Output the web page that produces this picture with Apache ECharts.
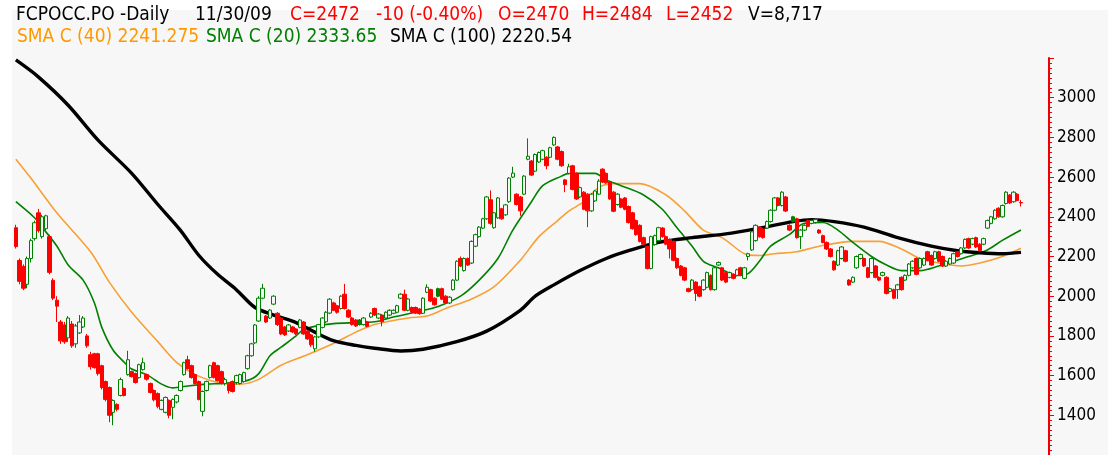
<!DOCTYPE html>
<html><head><meta charset="utf-8">
<script src="https://cdn.jsdelivr.net/npm/echarts@6/dist/echarts.min.js"></script>
<style>
html,body{margin:0;padding:0;background:#ffffff;overflow:hidden;}
#panel{position:absolute;left:12px;top:10px;width:1096px;height:445px;background:#f7f7f7;}
#chart{position:absolute;left:0;top:0;width:1108px;height:455px;}
</style></head><body>
<div id="panel"></div><div id="chart"></div>
<script>
// ---- data ----
const symbol = 'FCPOCC.PO -Daily';
const lastDate = '11/30/09';
const volume = '8,717';
const open = [
2345,2180,2150,2060,2190,2290,2420,2300,2340,2300,
2080,1980,1870,1855,1790,1860,1760,1815,1845,1800,
1705,1710,1710,1650,1570,1540,1415,1455,1500,1535,
1605,1620,1610,1590,1630,1605,1560,1525,1510,1430,
1415,1475,1440,1467,1525,1605,1680,1650,1605,1570,
1420,1525,1590,1665,1650,1620,1560,1557,1570,1565,
1560,1570,1635,1700,1765,1875,1990,1900,1890,1960,
1914,1890,1845,1825,1845,1835,1843,1870,1825,1805,
1735,1795,1843,1871,1915,1966,1952,1938,2010,1929,
1890,1880,1880,1857,1871,1895,1938,1890,1905,1890,
1905,1914,1919,1990,2010,1929,1943,1943,1935,1914,
2020,2033,1990,2038,2038,2000,1966,2033,2081,2190,
2129,2190,2167,2252,2300,2343,2390,2486,2345,2395,
2440,2410,2476,2600,2514,2500,2514,2690,2681,2630,
2676,2690,2700,2700,2762,2752,2729,2586,2619,2657,
2619,2500,2524,2514,2430,2480,2514,2640,2619,2576,
2524,2462,2490,2495,2452,2420,2381,2357,2295,2250,
2140,2260,2280,2343,2300,2286,2276,2190,2152,2143,
2038,2033,2071,2048,2033,2045,2105,2033,2157,2143,
2119,2095,2110,2105,2143,2090,2200,2233,2280,2348,
2338,2343,2376,2433,2495,2457,2500,2357,2400,2390,
2300,2333,2381,2367,2371,2333,2305,2271,2238,2176,
2157,2190,2229,2081,2071,2143,2190,2190,2143,2119,
2152,2095,2105,2095,2024,2033,2033,2095,2081,2105,
2143,2190,2143,2157,2224,2205,2190,2224,2200,2152,
2162,2167,2224,2214,2243,2290,2262,2295,2262,2262,
2343,2367,2390,2443,2400,2467,2510,2476,2514,2470];
const close = [
2250,2075,2040,2190,2280,2370,2330,2400,2405,2120,
1990,1950,1775,1770,1890,1750,1850,1870,1890,1750,
1645,1640,1610,1540,1480,1400,1475,1430,1580,1500,
1680,1595,1565,1655,1665,1582,1515,1478,1445,1475,
1490,1400,1480,1500,1570,1665,1635,1590,1560,1480,
1520,1570,1650,1590,1575,1560,1580,1525,1520,1600,
1605,1615,1700,1760,1855,1990,2040,1870,1930,2000,
1857,1810,1805,1855,1820,1810,1880,1810,1785,1755,
1795,1857,1890,1919,1985,1929,1919,2000,1938,1895,
1857,1850,1857,1890,1848,1914,1905,1910,1871,1919,
1929,1929,1952,2010,1929,1986,1919,1915,1912,1990,
2045,1976,1957,2000,1985,1966,1995,2081,2176,2152,
2190,2157,2276,2310,2348,2390,2500,2367,2420,2495,
2390,2460,2595,2620,2462,2430,2605,2705,2610,2714,
2724,2733,2657,2748,2800,2690,2657,2562,2652,2538,
2490,2547,2438,2430,2514,2530,2580,2575,2571,2490,
2428,2514,2448,2438,2371,2340,2310,2276,2262,2140,
2300,2305,2345,2300,2262,2238,2181,2143,2105,2081,
2024,2081,2014,2000,2081,2119,2033,2143,2170,2081,
2071,2119,2090,2133,2105,2143,2214,2324,2357,2300,
2295,2376,2433,2495,2457,2524,2429,2333,2376,2295,
2333,2357,2352,2381,2386,2319,2271,2238,2200,2133,
2229,2248,2176,2057,2095,2200,2210,2152,2095,2190,
2095,2081,2119,2014,2038,1990,2057,2033,2105,2162,
2176,2110,2190,2190,2181,2157,2224,2176,2152,2176,
2190,2214,2200,2243,2286,2243,2290,2248,2229,2290,
2381,2400,2433,2400,2457,2524,2470,2524,2482,2472];
const low = [
2240,2060,2030,2040,2170,2280,2320,2290,2330,2110,
1980,1870,1760,1760,1770,1740,1740,1810,1840,1740,
1630,1635,1600,1530,1470,1365,1350,1420,1495,1495,
1600,1590,1560,1585,1625,1575,1510,1470,1435,1425,
1410,1385,1380,1460,1520,1600,1630,1585,1555,1475,
1395,1520,1585,1585,1570,1555,1550,1510,1515,1555,
1555,1565,1630,1695,1760,1870,1985,1865,1885,1955,
1850,1805,1800,1820,1815,1805,1838,1805,1780,1745,
1720,1790,1838,1865,1910,1925,1912,1933,1933,1890,
1852,1845,1852,1852,1843,1890,1900,1885,1848,1885,
1900,1909,1914,1985,1925,1924,1914,1910,1907,1910,
2015,1970,1952,1995,1980,1960,1960,2028,2076,2147,
2124,2152,2162,2247,2295,2338,2385,2360,2340,2390,
2385,2405,2470,2595,2457,2405,2509,2685,2605,2625,
2671,2685,2640,2695,2757,2685,2652,2524,2614,2533,
2485,2495,2433,2348,2425,2475,2509,2570,2566,2485,
2423,2457,2443,2433,2366,2335,2305,2271,2257,2135,
2135,2255,2275,2295,2257,2190,2176,2138,2100,2076,
2019,2028,1976,1995,2028,2040,2028,2028,2152,2076,
2066,2090,2085,2100,2100,2085,2180,2228,2275,2295,
2290,2338,2371,2428,2452,2452,2424,2328,2371,2290,
2238,2328,2347,2362,2366,2314,2266,2233,2195,2128,
2152,2185,2171,2052,2066,2138,2185,2147,2090,2114,
2090,2076,2100,2009,2019,1985,1986,2028,2076,2100,
2138,2105,2138,2152,2176,2152,2185,2171,2147,2147,
2157,2162,2195,2209,2238,2238,2257,2243,2224,2257,
2338,2362,2385,2395,2395,2462,2465,2471,2478,2452];
const high = [
2360,2190,2160,2200,2290,2380,2440,2410,2410,2310,
2090,2000,1880,1870,1900,1875,1860,1905,1900,1810,
1720,1715,1715,1655,1575,1545,1480,1460,1590,1540,
1725,1625,1615,1660,1690,1610,1565,1530,1515,1480,
1495,1480,1485,1505,1575,1670,1700,1655,1610,1575,
1525,1575,1655,1670,1655,1625,1590,1565,1575,1605,
1610,1620,1705,1765,1860,2000,2062,1905,1935,2005,
1920,1895,1850,1860,1850,1840,1885,1875,1830,1810,
1800,1860,1895,1925,1990,1972,1957,2005,2062,1935,
1895,1885,1885,1895,1876,1920,1943,1915,1910,1924,
1934,1934,1957,2015,2033,1990,1948,1948,1940,1995,
2060,2038,1995,2043,2043,2005,2000,2086,2181,2200,
2195,2195,2281,2315,2353,2395,2505,2533,2425,2500,
2445,2465,2600,2652,2519,2505,2610,2795,2686,2719,
2729,2738,2705,2753,2805,2757,2734,2591,2667,2662,
2624,2552,2529,2519,2519,2535,2590,2645,2624,2581,
2529,2519,2495,2500,2457,2425,2386,2362,2300,2255,
2305,2310,2350,2348,2305,2291,2281,2195,2157,2148,
2043,2086,2076,2053,2086,2124,2110,2148,2175,2148,
2124,2124,2115,2138,2148,2148,2219,2329,2362,2353,
2343,2381,2438,2500,2500,2529,2505,2362,2405,2395,
2338,2362,2386,2386,2391,2338,2310,2276,2243,2181,
2234,2253,2234,2086,2100,2205,2215,2195,2148,2195,
2157,2100,2124,2100,2043,2038,2062,2100,2110,2167,
2181,2195,2195,2195,2229,2210,2229,2229,2205,2181,
2195,2219,2229,2248,2291,2295,2295,2300,2267,2295,
2386,2405,2438,2448,2462,2529,2515,2529,2520,2484];
// moving averages: [bar index, value]
const sma20 = [[0,2476],[5,2395],[7,2348],[11,2252],[14,2157],[18,2081],[21,1967],[23,1843],[26,1729],[29,1667],[31,1633],[35,1605],[39,1557],[42,1538],[46,1548],[51,1557],[56,1562],[62,1576],[65,1610],[68,1700],[71,1743],[75,1800],[77,1833],[80,1848],[85,1862],[91,1867],[96,1871],[101,1895],[108,1924],[113,1948],[119,2000],[124,2081],[129,2190],[133,2333],[138,2476],[141,2557],[146,2605],[148,2619],[155,2619],[158,2586],[162,2557],[168,2510],[173,2438],[177,2343],[181,2252],[184,2176],[188,2143],[193,2105],[196,2114],[199,2176],[202,2252],[207,2310],[211,2367],[216,2371],[220,2333],[224,2271],[229,2200],[233,2157],[237,2129],[242,2129],[247,2152],[251,2176],[255,2200],[260,2233],[264,2281],[269,2333.65]];
const sma40 = [[0,2690],[4,2595],[11,2419],[20,2224],[25,2071],[31,1919],[38,1771],[43,1667],[48,1605],[55,1562],[60,1557],[65,1581],[71,1652],[78,1705],[86,1771],[91,1819],[96,1857],[105,1890],[110,1900],[115,1938],[122,1986],[128,2048],[135,2181],[140,2300],[145,2381],[148,2429],[152,2476],[156,2548],[160,2567],[167,2567],[174,2510],[179,2429],[184,2333],[189,2295],[195,2214],[199,2205],[203,2214],[209,2224],[215,2252],[224,2276],[231,2276],[237,2238],[242,2190],[247,2167],[253,2152],[258,2167],[264,2200],[269,2241.275]];
const sma100 = [[0,3190],[6,3105],[14,2962],[22,2786],[31,2619],[38,2462],[44,2333],[49,2205],[54,2110],[59,2033],[64,1943],[69,1905],[75,1867],[80,1819],[85,1776],[91,1752],[96,1738],[103,1724],[109,1733],[118,1771],[126,1824],[135,1929],[139,2000],[144,2057],[151,2129],[158,2190],[164,2229],[172,2271],[181,2295],[190,2314],[199,2343],[208,2376],[213,2386],[219,2376],[227,2348],[236,2295],[245,2252],[252,2229],[258,2219],[264,2214],[269,2220.54]];
const emptySlots = 7;   // unused days right of the last bar
const yMin = 1200, yMax = 3200, yStep = 200;

// ---- derived ----
const n = close.length, last = n - 1;
const categories = close.map((_, i) => 'd' + i).concat(Array.from({length: emptySlots}, (_, i) => 'e' + i));
const UP = '#008000', DOWN = '#ff0000', HOLLOW = '#f7f7f7', ORANGE = '#f7a035', BLACK = '#000000';
const candles = open.map((o, i) => {
  const c = close[i];
  const prev = i > 0 ? close[i - 1] : o;
  const col = c >= prev ? UP : DOWN;
  const fill = c >= o ? HOLLOW : col;
  return {value: [o, c, low[i], high[i]], itemStyle: {color: fill, color0: fill, borderColor: col, borderColor0: col}};
});
const chg = close[last] - close[last - 1];
const pct = (chg / close[last - 1] * 100).toFixed(2);
const lastOf = a => a[a.length - 1][1];

const F = '"DejaVu Sans Condensed", "DejaVu Sans", sans-serif';
function t(text, left, top, color) {
  return {text: text, left: left, top: top, padding: 0,
    textStyle: {color: color, fontSize: 19, fontWeight: 'normal', fontFamily: F}};
}
const L1 = 6, L2 = 28;
const titles = [
  t(symbol, 16, L1, BLACK),
  t(lastDate, 195, L1, BLACK),
  t('C=' + close[last], 290, L1, DOWN),
  t(chg + ' (' + pct + '%)', 376, L1, DOWN),
  t('O=' + open[last], 498, L1, DOWN),
  t('H=' + high[last], 582, L1, DOWN),
  t('L=' + low[last], 666, L1, DOWN),
  t('V=' + volume, 748, L1, BLACK),
  t('SMA C (40) ' + lastOf(sma40), 17, L2, '#ff9900'),
  t('SMA C (20) ' + lastOf(sma20), 206, L2, UP),
  t('SMA C (100) ' + lastOf(sma100), 390, L2, BLACK)
];

const chart = echarts.init(document.getElementById('chart'), null, {renderer: 'canvas'});
chart.setOption({
  animation: false,
  backgroundColor: 'transparent',
  title: titles,
  grid: {left: 14, width: 1035, top: 58, height: 420, containLabel: false},
  xAxis: {type: 'category', data: categories, boundaryGap: true, show: false},
  yAxis: {
    type: 'value', position: 'right', min: yMin, max: yMax, interval: yStep,
    axisLine: {show: true, lineStyle: {color: '#ee0000', width: 2}},
    axisTick: {show: true, length: 5, lineStyle: {color: '#ee0000', width: 1}},
    minorTick: {show: true, splitNumber: 8, length: 3, lineStyle: {color: '#ee0000', width: 1}},
    splitLine: {show: false},
    axisLabel: {show: true, color: '#000', fontSize: 17, fontFamily: F, margin: 8,
      showMinLabel: false, showMaxLabel: false, formatter: v => String(v)}
  },
  series: [
    {type: 'line', data: sma40, showSymbol: false, smooth: 0.3, lineStyle: {color: ORANGE, width: 1.6}, z: 3, silent: true},
    {type: 'line', data: sma20, showSymbol: false, smooth: 0.3, lineStyle: {color: UP, width: 1.6}, z: 3, silent: true},
    {type: 'line', data: sma100, showSymbol: false, smooth: 0.3, lineStyle: {color: BLACK, width: 3.4}, z: 4, silent: true},
    {type: 'candlestick', data: candles, barWidth: 4, z: 5,
      markLine: {silent: true, symbol: 'none', animation: false,
        lineStyle: {opacity: 0},
        label: {show: true, position: 'end', distance: 8, formatter: String(close[last]),
          color: DOWN, backgroundColor: '#ffff00', fontSize: 17, fontFamily: F, padding: [1, 1, 0, 1]},
        data: [{yAxis: close[last]}]}
    }
  ]
});
</script>
</body></html>
